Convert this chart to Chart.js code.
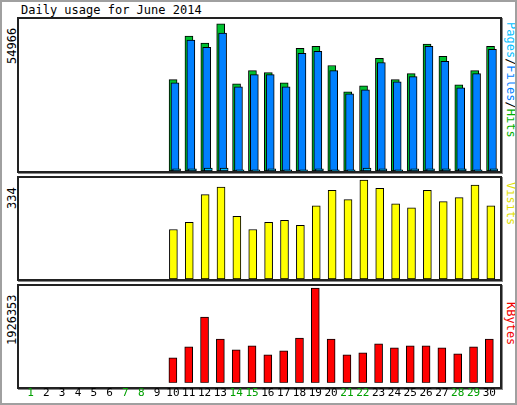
<!DOCTYPE html>
<html><head><meta charset="utf-8">
<script src="https://cdn.jsdelivr.net/npm/chart.js@4"></script>
<style>
body{margin:0;background:#fff;}
#wrap{position:relative;width:517px;height:405px;box-sizing:border-box;border:2px solid #a0a0a0;overflow:hidden;font-family:"DejaVu Sans Mono",monospace;}
.frame{position:absolute;border:2px solid #222;box-shadow:1px 1px 0 #888;box-sizing:border-box;}
canvas{position:absolute;}
.t{position:absolute;font-size:12px;white-space:nowrap;}
.rl{position:absolute;font-size:12px;white-space:nowrap;transform-origin:0 0;}
</style></head><body>
<div id="wrap">
<div class="t" style="left:19px;top:1px;">Daily usage for June 2014</div>
<div class="frame" style="left:15px;top:15px;width:485px;height:156px;"></div>
<div class="frame" style="left:15px;top:174px;width:485px;height:105px;"></div>
<div class="frame" style="left:15px;top:282px;width:485px;height:105px;"></div>
<div class="rl" style="left:3px;top:62px;transform:rotate(-90deg);">54966</div>
<div class="rl" style="left:3px;top:207px;transform:rotate(-90deg);">334</div>
<div class="rl" style="left:3px;top:343px;transform:rotate(-90deg);">1926353</div>
<div class="rl" style="left:516px;top:20px;transform:rotate(90deg);"><span style="color:#00c0ff">Pages</span>/<span style="color:#0080ff">Files</span>/<span style="color:#00b000">Hits</span></div>
<div class="rl" style="left:516px;top:180px;transform:rotate(90deg);color:#e0e000">Visits</div>
<div class="rl" style="left:516px;top:300px;transform:rotate(90deg);color:#f00000">KBytes</div>
<canvas id="c1" style="left:17px;top:17px;"></canvas>
<canvas id="c2" style="left:17px;top:176px;"></canvas>
<canvas id="c3" style="left:17px;top:284px;"></canvas>
</div>
<script>
const days = Array.from({length:30},(_,i)=>i+1);
const weekendDays = [1,7,8,14,15,21,22,28,29];
const hits  = [null,null,null,null,null,null,null,null,null,34117,50416,47763,54966,32600,37528,36770,32979,45868,46626,39424,29567,31842,42077,34117,36391,47384,42835,32221,37528,46626];
const files = [null,null,null,null,null,null,null,null,null,32979,48900,46247,51554,31463,36012,36012,31463,43972,44730,37528,28809,30326,40561,33358,35254,46626,40940,31084,36391,45489];
const pages = [null,null,null,null,null,null,null,null,null,800,800,1100,1100,400,400,800,400,400,800,400,400,1100,800,400,800,800,800,800,400,800];
const visits = [null,null,null,null,null,null,null,null,null,167,191,285,310,212,167,191,198,181,247,299,268,334,306,254,240,299,261,275,317,247];
const kbytes = [null,null,null,null,null,null,null,null,null,506925,729972,1338282,892188,669141,750249,567756,648864,912465,1926353,892188,567756,608310,790803,709695,750249,750249,709695,588033,729972,892188];

function pts(arr, dx){return days.map((d,i)=>({x:d+dx,y:arr[i]}));}
function ds(arr,dx,color){return {data:pts(arr,dx),backgroundColor:color,borderColor:'#000',borderWidth:1,barThickness:8,grouped:false,borderSkipped:false};}
function make(id,w,h,datasets,ymax,showX){
  const c=document.getElementById(id); c.width=w; c.height=h; c.style.width=w+'px'; c.style.height=h+'px';
  return new Chart(c,{type:'bar',data:{datasets},options:{
    responsive:false,animation:false,devicePixelRatio:1,
    layout:{padding:{left:2,right:2,top:0,bottom:0}},
    plugins:{legend:{display:false},tooltip:{enabled:false}},
    scales:{
      x:{type:'linear',min:0.4,max:30.45,offset:false,display:showX,grid:{display:false,drawTicks:false},border:{display:false},
        afterBuildTicks:s=>{s.ticks=days.map(d=>({value:d}));},
        ticks:{autoSkip:false,maxRotation:0,padding:4,font:{family:'DejaVu Sans Mono',size:11},
          color:c=>weekendDays.includes(c.tick.value)?'#00a000':'#000',callback:v=>String(v)}},
      y:{display:false,min:0,max:ymax}
    }}});
}
make('c1',481,152,[ds(pages,0.2,'#00c0ff'),ds(files,0.1,'#0080ff'),ds(hits,-0.02,'#00c030')],56800,false);
make('c2',481,101,[ds(visits,0,'#ffff00')],341,false);
make('c3',481,118,[ds(kbytes,0,'#ff0000')],1970000,true);
</script>
</body></html>
